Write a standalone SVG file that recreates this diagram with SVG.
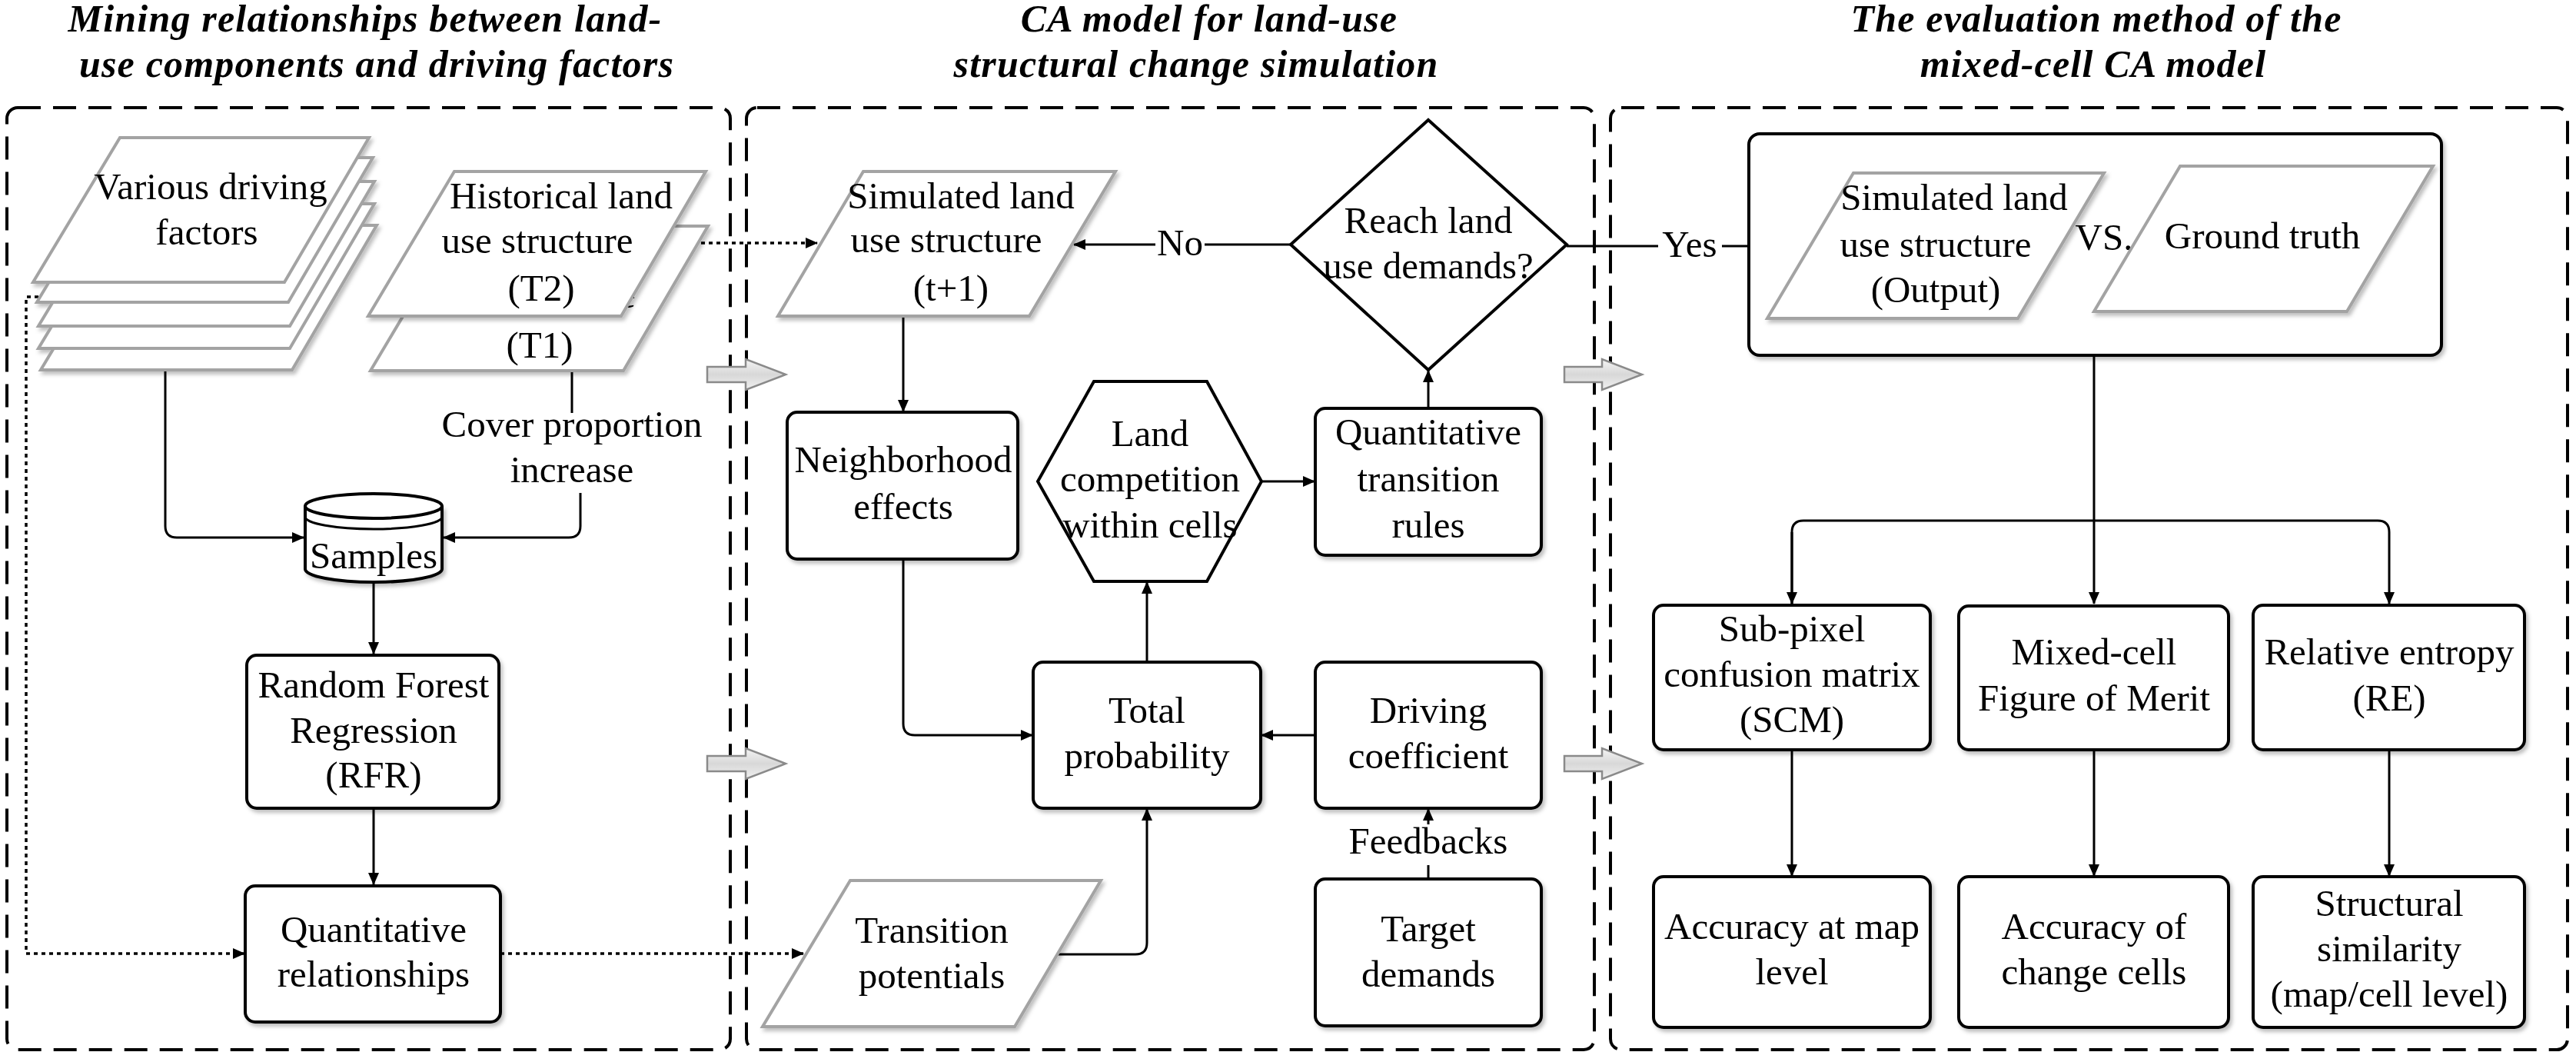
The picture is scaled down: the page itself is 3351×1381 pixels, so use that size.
<svg xmlns="http://www.w3.org/2000/svg" width="3351" height="1381" viewBox="0 0 3351 1381">
<style>
text{font-family:"Liberation Serif","Times New Roman",serif;font-size:49px;fill:#000;text-anchor:middle}
.title{font-weight:bold;font-style:italic;font-size:50px;letter-spacing:1.2px}
.panel{fill:none;stroke:#000;stroke-width:4;stroke-dasharray:30 16}
.box{fill:#fff;stroke:#000;stroke-width:4}
.para{fill:#fff;stroke:#a3a3a3;stroke-width:4;stroke-linejoin:miter}
.ln{fill:none;stroke:#000;stroke-width:3}
.dot{fill:none;stroke:#000;stroke-width:3.5;stroke-dasharray:5 5}
.blk{fill:url(#gg);stroke:#8a8a8a;stroke-width:2.5}
</style>
<defs>
<marker id="ah" viewBox="0 0 16 14" refX="15" refY="7" markerWidth="16" markerHeight="14" markerUnits="userSpaceOnUse" orient="auto">
<path d="M0,0 L16,7 L0,14 z" fill="#000"/>
</marker>
<linearGradient id="gg" x1="0" y1="0" x2="0" y2="1">
<stop offset="0" stop-color="#f4f4f4"/>
<stop offset="0.5" stop-color="#d8d8d8"/>
<stop offset="1" stop-color="#f0f0f0"/>
</linearGradient>
<filter id="sh" x="-5%" y="-5%" width="115%" height="120%">
<feDropShadow dx="3" dy="4" stdDeviation="2.5" flood-color="#000" flood-opacity="0.25"/>
</filter>
</defs>
<rect width="3351" height="1381" fill="#fff"/>

<g id="titles">
<text class="title" x="475" y="41">Mining relationships between land-</text>
<text class="title" x="490" y="100">use components and driving factors</text>
<text class="title" x="1573" y="41">CA model for land-use</text>
<text class="title" x="1556" y="100">structural change simulation</text>
<text class="title" x="2727" y="41">The evaluation method of the</text>
<text class="title" x="2723" y="100">mixed-cell CA model</text>
</g>

<g id="panels">
<rect id="panel-mining" class="panel" x="9" y="140" width="941" height="1225" rx="14"/>
<rect id="panel-ca" class="panel" x="971" y="140" width="1103" height="1225" rx="14"/>
<rect id="panel-eval" class="panel" x="2095" y="140" width="1245" height="1225" rx="14"/>
</g>

<g id="block-arrows">
<path class="blk" d="M920,477 H970 V467 L1022,487 L970,507 V497 H920 Z"/>
<path class="blk" d="M920,983 H970 V973 L1022,993 L970,1013 V1003 H920 Z"/>
<path class="blk" d="M2035,477 H2084 V467 L2136,487 L2084,507 V497 H2035 Z"/>
<path class="blk" d="M2035,983 H2084 V973 L2136,993 L2084,1013 V1003 H2035 Z"/>
</g>

<g id="connectors">
<path class="ln" d="M215,481 V684 Q215,699 230,699 H395" marker-end="url(#ah)"/>
<path class="ln" d="M744,482 V537"/>
<path class="ln" d="M755,641 V684 Q755,699 740,699 H577" marker-end="url(#ah)"/>
<path class="ln" d="M486,757 V850" marker-end="url(#ah)"/>
<path class="ln" d="M486,1051 V1150" marker-end="url(#ah)"/>
<path class="dot" d="M50,386 H34 V1240 H318" marker-end="url(#ah)"/>
<path class="dot" d="M651,1240 H1045" marker-end="url(#ah)"/>
<path class="dot" d="M862,316 H1063" marker-end="url(#ah)"/>
<path class="ln" d="M1679,318 H1567"/>
<path class="ln" d="M1503,318 H1397" marker-end="url(#ah)"/>
<path class="ln" d="M2038,320 H2157"/>
<path class="ln" d="M2240,320 H2352" marker-end="url(#ah)"/>
<path class="ln" d="M1175,411 V535" marker-end="url(#ah)"/>
<path class="ln" d="M1641,626 H1710" marker-end="url(#ah)"/>
<path class="ln" d="M1858,531 V482" marker-end="url(#ah)"/>
<path class="ln" d="M1175,727 V941 Q1175,956 1190,956 H1343" marker-end="url(#ah)"/>
<path class="ln" d="M1711,956 H1641" marker-end="url(#ah)"/>
<path class="ln" d="M1492,861 V757" marker-end="url(#ah)"/>
<path class="ln" d="M1376,1241 H1477 Q1492,1241 1492,1226 V1052" marker-end="url(#ah)"/>
<path class="ln" d="M1858,1143 V1125"/>
<path class="ln" d="M1858,1072 V1052" marker-end="url(#ah)"/>
<path class="ln" d="M2724,462 V785" marker-end="url(#ah)"/>
<path class="ln" d="M2331,785 V692 Q2331,677 2346,677 H3093 Q3108,677 3108,692 V785" marker-end="url(#ah)"/>
<path class="ln" d="M2331,692 V785" marker-end="url(#ah)"/>
<path class="ln" d="M2331,975 V1139" marker-end="url(#ah)"/>
<path class="ln" d="M2724,975 V1139" marker-end="url(#ah)"/>
<path class="ln" d="M3108,975 V1139" marker-end="url(#ah)"/>
<text x="1535" y="332">No</text>
<text x="2198" y="334">Yes</text>
<text x="744" y="568">Cover proportion</text>
<text x="744" y="627">increase</text>
<text x="1858" y="1110">Feedbacks</text>
</g>

<g id="driving-factors" filter="url(#sh)">
<path class="para" d="M166,293 H490 L380,481 H53 Z"/>
<path class="para" d="M163,265 H487 L377,453 H50 Z"/>
<path class="para" d="M163,236 H487 L377,424 H50 Z"/>
<path class="para" d="M161,205 H485 L375,393 H48 Z"/>
<path class="para" d="M156,179 H480 L370,367 H43 Z"/>
</g>
<g id="driving-factors-label">
<text x="274" y="259">Various driving</text>
<text x="269" y="318">factors</text>
</g>

<g id="historical-t1">
<path class="para" d="M594,294 H921 L811,482 H482 Z" filter="url(#sh)"/>
<text x="805" y="400" style="text-anchor:start">e</text>
<text x="702" y="465">(T1)</text>
</g>
<g id="historical-t2">
<path class="para" d="M591,223 H918 L808,411 H479 Z" filter="url(#sh)"/>
<text x="730" y="271">Historical land</text>
<text x="699" y="329">use structure</text>
<text x="704" y="391">(T2)</text>
</g>

<g id="samples">
<path class="box" d="M397,658 V740 A89,17 0 0 0 575,740 V658" filter="url(#sh)"/>
<ellipse class="box" cx="486" cy="658" rx="89" ry="16"/>
<path class="ln" d="M397,672 A89,16 0 0 0 575,672"/>
<text x="486" y="739">Samples</text>
</g>

<g id="rfr">
<rect class="box" x="321" y="852" width="328" height="199" rx="13" filter="url(#sh)"/>
<text x="486" y="907">Random Forest</text>
<text x="486" y="966">Regression</text>
<text x="486" y="1024">(RFR)</text>
</g>

<g id="quant-relationships">
<rect class="box" x="319" y="1152" width="332" height="177" rx="13" filter="url(#sh)"/>
<text x="486" y="1225">Quantitative</text>
<text x="486" y="1283">relationships</text>
</g>

<g id="simulated-t1">
<path class="para" d="M1123,223 H1451 L1339,411 H1012 Z" filter="url(#sh)"/>
<text x="1250" y="271">Simulated land</text>
<text x="1231" y="328">use structure</text>
<text x="1237" y="391">(t+1)</text>
</g>

<g id="reach-demands">
<path class="box" d="M1858,156 L2038,318 L1858,481 L1679,318 Z" stroke-width="3.5"/>
<text x="1858" y="303">Reach land</text>
<text x="1858" y="362">use demands?</text>
</g>

<g id="neighborhood">
<rect class="box" x="1024" y="536" width="300" height="191" rx="13" filter="url(#sh)"/>
<text x="1175" y="614">Neighborhood</text>
<text x="1175" y="675">effects</text>
</g>

<g id="land-competition">
<path class="box" d="M1423,496 H1570 L1641,626 L1570,756 H1423 L1350,626 Z" stroke-width="3.5"/>
<text x="1496" y="580">Land</text>
<text x="1496" y="639">competition</text>
<text x="1496" y="699">within cells</text>
</g>

<g id="quant-rules">
<rect class="box" x="1711" y="531" width="294" height="191" rx="13" filter="url(#sh)"/>
<text x="1858" y="578">Quantitative</text>
<text x="1858" y="639">transition</text>
<text x="1858" y="699">rules</text>
</g>

<g id="total-probability">
<rect class="box" x="1344" y="861" width="296" height="190" rx="13" filter="url(#sh)"/>
<text x="1492" y="940">Total</text>
<text x="1492" y="999">probability</text>
</g>

<g id="driving-coefficient">
<rect class="box" x="1711" y="861" width="294" height="190" rx="13" filter="url(#sh)"/>
<text x="1858" y="940">Driving</text>
<text x="1858" y="999">coefficient</text>
</g>

<g id="target-demands">
<rect class="box" x="1711" y="1143" width="294" height="191" rx="13" filter="url(#sh)"/>
<text x="1858" y="1224">Target</text>
<text x="1858" y="1283">demands</text>
</g>

<g id="transition-potentials">
<path class="para" d="M1106,1145 H1432 L1320,1335 H992 Z" filter="url(#sh)"/>
<text x="1212" y="1226">Transition</text>
<text x="1212" y="1285">potentials</text>
</g>

<g id="comparison">
<rect class="box" x="2275" y="174" width="901" height="288" rx="14" stroke-width="4.5" filter="url(#sh)"/>
<path class="para" d="M2411,225 H2737 L2625,414 H2299 Z" filter="url(#sh)"/>
<text x="2542" y="273">Simulated land</text>
<text x="2518" y="334">use structure</text>
<text x="2518" y="393">(Output)</text>
<text x="2737" y="325">VS.</text>
<path class="para" d="M2836,216 H3165 L3053,405 H2724 Z" filter="url(#sh)"/>
<text x="2943" y="323">Ground truth</text>
</g>

<g id="scm">
<rect class="box" x="2151" y="787" width="360" height="188" rx="13" filter="url(#sh)"/>
<text x="2331" y="834">Sub-pixel</text>
<text x="2331" y="893">confusion matrix</text>
<text x="2331" y="952">(SCM)</text>
</g>
<g id="mfom">
<rect class="box" x="2548" y="788" width="351" height="187" rx="13" filter="url(#sh)"/>
<text x="2724" y="864">Mixed-cell</text>
<text x="2724" y="924">Figure of Merit</text>
</g>
<g id="re">
<rect class="box" x="2931" y="787" width="353" height="188" rx="13" filter="url(#sh)"/>
<text x="3108" y="864">Relative entropy</text>
<text x="3108" y="924">(RE)</text>
</g>
<g id="acc-map">
<rect class="box" x="2151" y="1140" width="360" height="196" rx="13" filter="url(#sh)"/>
<text x="2331" y="1221">Accuracy at map</text>
<text x="2331" y="1280">level</text>
</g>
<g id="acc-change">
<rect class="box" x="2548" y="1140" width="351" height="196" rx="13" filter="url(#sh)"/>
<text x="2724" y="1221">Accuracy of</text>
<text x="2724" y="1280">change cells</text>
</g>
<g id="structural-similarity">
<rect class="box" x="2931" y="1140" width="353" height="196" rx="13" filter="url(#sh)"/>
<text x="3108" y="1191">Structural</text>
<text x="3108" y="1250">similarity</text>
<text x="3108" y="1309">(map/cell level)</text>
</g>
</svg>
